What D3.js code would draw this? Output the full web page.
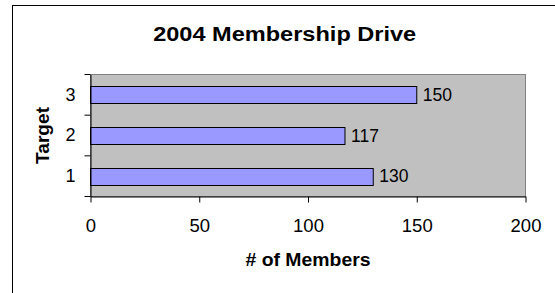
<!DOCTYPE html>
<html lang="en">
<head>
    <meta charset="UTF-8">
    <title>2004 Membership Drive</title>
    <script src="https://d3js.org/d3.v7.min.js"></script>
    <style>
        body { margin: 0; background: #fff; }
        text { font-family: 'Liberation Sans', Arial, sans-serif; fill: #000; }
    </style>
</head>
<body>
<script>
    const width  = 555;
    const height = 293;

    const targets = ['1', '2', '3'];
    const members = [130, 117, 150];
    const xTicks  = [0, 50, 100, 150, 200];

    const plot = {left: 90.5, right: 525.5, top: 74.5, bottom: 196.5};

    const svg = d3.select("body").append("svg")
            .attr("width", width).attr("height", height);

    // outer chart border (runs off the right and bottom edges)
    svg.append("rect")
            .attr("x", 12.5).attr("y", 5.5)
            .attr("width", 700).attr("height", 400)
            .attr("fill", "#fff").attr("stroke", "#000");

    const x = d3.scaleLinear()
            .domain([0, 200])
            .range([plot.left, plot.right]);

    const y = d3.scaleBand()
            .domain(targets)
            .range([plot.bottom, plot.top]);  // 1 at the bottom

    // plot area
    svg.append("rect")
            .attr("x", plot.left).attr("y", plot.top)
            .attr("width", plot.right - plot.left)
            .attr("height", plot.bottom - plot.top)
            .attr("fill", "#c0c0c0")
            .attr("stroke", "#808080");

    const barH = y.bandwidth() * 0.41;

    svg.selectAll(".bar")
            .data(targets)
            .enter()
            .append("rect").attr("class", "bar")
            .attr("x", x(0))
            .attr("y", (d) => Math.round(y(d) + (y.bandwidth() - barH) / 2) + 0.5)
            .attr("width", (d, i) => x(members[i]) - x(0))
            .attr("height", Math.round(barH))
            .attr("fill", "#9999ff")
            .attr("stroke", "#000");

    svg.selectAll(".val")
            .data(targets)
            .enter()
            .append("text").attr("class", "val")
            .attr("x", (d, i) => x(members[i]) + 6)
            .attr("y", (d) => y(d) + y.bandwidth() / 2)
            .attr("dy", "0.36em")
            .style("font-size", "17.5px")
            .text((d, i) => members[i]);

    // x axis
    const xAxis = svg.append("g")
            .attr("transform", "translate(0," + plot.bottom + ")")
            .call(d3.axisBottom(x).tickValues(xTicks).tickSize(6).tickPadding(16).tickSizeOuter(0));
    xAxis.select(".domain").attr("stroke", "#000");
    xAxis.selectAll("text").style("font-size", "18.5px").attr("font-family", null);

    // y axis: labels centred in bands, ticks on band edges
    const yAxis = svg.append("g")
            .attr("transform", "translate(" + plot.left + ",0)")
            .call(d3.axisLeft(y).tickSize(0).tickPadding(15));
    yAxis.select(".domain").attr("stroke", "#000");
    yAxis.selectAll("text").style("font-size", "18px").attr("font-family", null);

    const edges = targets.map((d) => y(d)).concat([plot.bottom]);
    yAxis.selectAll(".edge")
            .data(edges)
            .enter()
            .append("line").attr("class", "edge")
            .attr("x1", -6).attr("x2", 0)
            .attr("y1", (d) => d).attr("y2", (d) => d)
            .attr("stroke", "#000");

    // titles (bold text in the original is drawn slightly wide)
    svg.append("text")
            .attr("x", 284.7)
            .attr("y", 41)
            .attr("text-anchor", "middle")
            .style("font-size", "20px").style("font-weight", "bold")
            .attr("textLength", 263).attr("lengthAdjust", "spacingAndGlyphs")
            .text("2004 Membership Drive");

    svg.append("text")
            .attr("x", (plot.left + plot.right) / 2)
            .attr("y", 266)
            .attr("text-anchor", "middle")
            .style("font-size", "17.8px").style("font-weight", "bold")
            .attr("textLength", 125).attr("lengthAdjust", "spacingAndGlyphs")
            .text("# of Members");

    svg.append("text")
            .attr("transform", "translate(49," + (plot.top + plot.bottom) / 2 + ") rotate(-90)")
            .attr("text-anchor", "middle")
            .style("font-size", "17.5px").style("font-weight", "bold")
            .attr("textLength", 57).attr("lengthAdjust", "spacingAndGlyphs")
            .text("Target");
</script>
</body>
</html>
